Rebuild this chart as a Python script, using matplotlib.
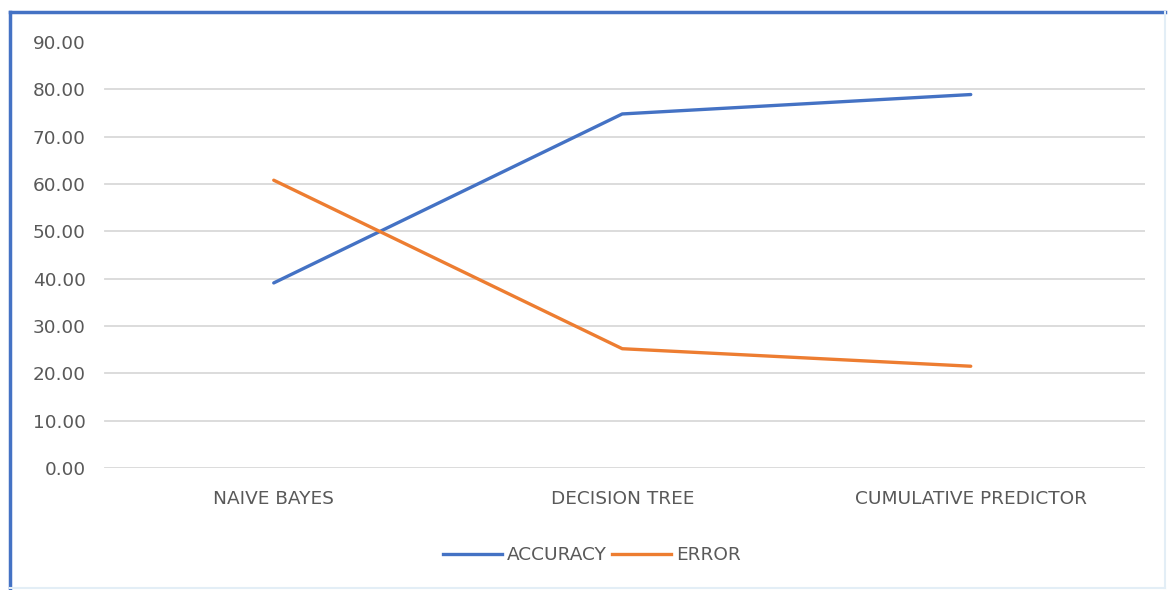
import matplotlib
matplotlib.use("Agg")
import matplotlib.pyplot as plt
from matplotlib.lines import Line2D

# Model comparison data
categories = ["NAIVE BAYES", "DECISION TREE", "CUMULATIVE PREDICTOR"]
accuracy = [39.1, 74.8, 78.9]
error = [60.8, 25.2, 21.5]
yticks = [0, 10, 20, 30, 40, 50, 60, 70, 80, 90]

BLUE = "#4472C4"
ORANGE = "#ED7D31"
TEXT = "#595959"
GRID = "#D9D9D9"

plt.rcParams["font.family"] = ["DejaVu Sans"]
FS = 13.3

W, H = 1173, 590
fig = plt.figure(figsize=(W / 100, H / 100), dpi=100)
fig.patch.set_facecolor("white")

# Plot area
left, right = 99.5 / W, 1145 / W
bottom, top = 1 - 468 / H, 1 - 42 / H
ax = fig.add_axes([left, bottom, right - left, top - bottom])

x = list(range(len(categories)))
ax.plot(x, accuracy, color=BLUE, lw=2.4, solid_capstyle="round", label="ACCURACY", zorder=3)
ax.plot(x, error, color=ORANGE, lw=2.4, solid_capstyle="round", label="ERROR", zorder=3)

ax.set_xlim(-0.5, len(categories) - 0.5)
ax.set_ylim(0, 90)
ax.set_yticks(yticks)
ax.set_yticklabels([f"{v:.2f}" for v in yticks])
ax.set_xticks(x)
ax.set_xticklabels(categories)

for s in ax.spines.values():
    s.set_visible(False)
ax.tick_params(axis="both", length=0, colors=TEXT, labelsize=FS)
ax.tick_params(axis="y", pad=10)
ax.tick_params(axis="x", pad=16)

# Horizontal gridlines (no line at the top value)
for v in yticks[:-1]:
    ax.axhline(v, xmin=0.005, xmax=1.0, color=GRID, lw=1.3, zorder=1)

leg = fig.legend(handles=[Line2D([], [], color=BLUE, lw=2.4), Line2D([], [], color=ORANGE, lw=2.4)],
                 labels=["ACCURACY", "ERROR"], loc="center", bbox_to_anchor=(592 / W, 1 - 555 / H),
                 ncol=2, frameon=False, fontsize=FS, handlelength=3.2, handletextpad=0.25,
                 columnspacing=0.3)
for t in leg.get_texts():
    t.set_color(TEXT)

# Chart border
fig.add_artist(Line2D([10 / W, 10 / W], [1 - 588 / H, 1 - 12 / H], color=BLUE, lw=2.5))
fig.add_artist(Line2D([10 / W, 1165 / W], [1 - 12 / H, 1 - 12 / H], color=BLUE, lw=2.5))
fig.add_artist(Line2D([1165 / W, 1165 / W], [1 - 588 / H, 1 - 12 / H], color="#E3EEF6", lw=1.5))
fig.add_artist(Line2D([10 / W, 1165 / W], [1 - 588 / H, 1 - 588 / H], color="#E3EEF6", lw=1.5))

fig.savefig("out.png", dpi=100)
